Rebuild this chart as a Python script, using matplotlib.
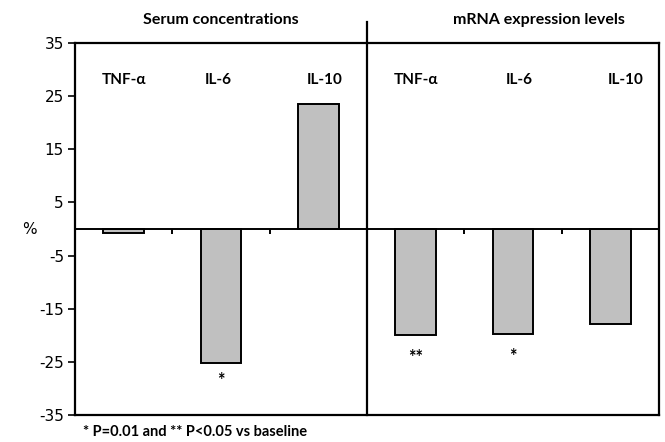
import matplotlib
matplotlib.use("Agg")
import matplotlib.pyplot as plt

# Data
groups = ["Serum concentrations", "mRNA expression levels"]
categories = ["TNF-\u03b1", "IL-6", "IL-10", "TNF-\u03b1", "IL-6", "IL-10"]
values = [-0.8, -25.3, 23.6, -19.9, -19.7, -17.9]
stars = ["", "*", "", "**", "*", ""]
yticks = [35, 25, 15, 5, -5, -15, -25, -35]
footnote = "* P=0.01 and ** P<0.05 vs baseline"

bold_font = ["Lato", "DejaVu Sans"]

fig = plt.figure(figsize=(6.65, 4.42), dpi=100)
ax = fig.add_axes([75/665, 27/442, 584/665, 372/442])

x = list(range(len(categories)))
ax.bar(x, values, width=0.42, color="#c0c0c0", edgecolor="black", linewidth=1.4, zorder=3)

ax.set_xlim(-0.5, len(categories) - 0.5)
ax.set_ylim(-35, 35)
ax.set_yticks(yticks)
ax.set_yticklabels([str(v) for v in yticks], fontsize=11, family="DejaVu Sans")
ax.tick_params(axis="y", direction="out", length=5, width=1.2, pad=3)
ax.set_xticks([])
for s in ax.spines.values():
    s.set_linewidth(1.6)

# zero line and category separator ticks
ax.axhline(0, color="black", linewidth=1.4, zorder=4)
bounds = [i + 0.5 for i in range(len(categories) - 1)]
ax.vlines([b for b in bounds if b != 2.5], -0.9, 0, color="black", linewidth=1.4, zorder=4)

# divider between groups
ax.plot([2.5, 2.5], [-35, 39], color="black", linewidth=1.6, clip_on=False, zorder=5)

# group titles
ax.text(1.0, 39.3, groups[0], ha="center", va="center", fontsize=11.5,
        fontweight="bold", family=bold_font)
ax.text(4.27, 39.3, groups[1], ha="center", va="center", fontsize=11.5,
        fontweight="bold", family=bold_font)

# category labels
label_shift = [0, -0.03, 0.07, 0, 0.06, 0.16]
for i, c in enumerate(categories):
    ax.text(i + label_shift[i], 28.0, c, ha="center", va="center", fontsize=11,
            fontweight="bold", family=bold_font)

# significance stars
star_offset = [0, -6, 0, -10, -10, 0]
for i, (v, s) in enumerate(zip(values, stars)):
    if s:
        ax.annotate(s, (i, v), xytext=(0, star_offset[i]), textcoords="offset points",
                    ha="center", va="top", fontsize=13, fontweight="bold",
                    family=bold_font)

ax.text(-0.97, 0, "%", ha="center", va="center", fontsize=11, family="DejaVu Sans",
        transform=ax.transData, clip_on=False)

fig.text(83/665, 1 - 432/442, footnote, ha="left", va="center", fontsize=10.5,
         fontweight="bold", family=bold_font)

fig.savefig("out.png", dpi=100)
